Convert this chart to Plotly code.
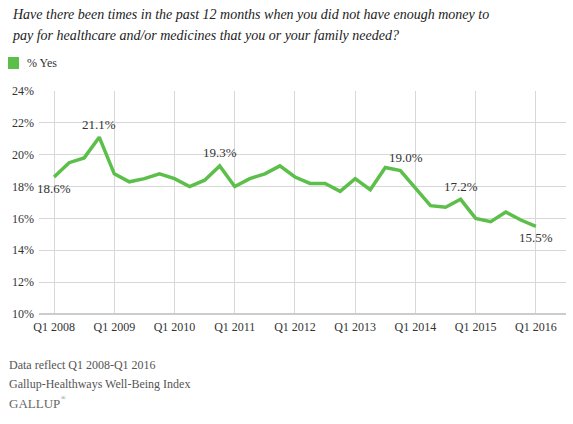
import plotly.graph_objects as go

quarters = ["Q1 2008", "Q2 2008", "Q3 2008", "Q4 2008",
            "Q1 2009", "Q2 2009", "Q3 2009", "Q4 2009",
            "Q1 2010", "Q2 2010", "Q3 2010", "Q4 2010",
            "Q1 2011", "Q2 2011", "Q3 2011", "Q4 2011",
            "Q1 2012", "Q2 2012", "Q3 2012", "Q4 2012",
            "Q1 2013", "Q2 2013", "Q3 2013", "Q4 2013",
            "Q1 2014", "Q2 2014", "Q3 2014", "Q4 2014",
            "Q1 2015", "Q2 2015", "Q3 2015", "Q4 2015",
            "Q1 2016"]
pct_yes = [18.6, 19.5, 19.8, 21.1,
           18.8, 18.3, 18.5, 18.8,
           18.5, 18.0, 18.4, 19.3,
           18.0, 18.5, 18.8, 19.3,
           18.6, 18.2, 18.2, 17.7,
           18.5, 17.8, 19.2, 19.0,
           17.9, 16.8, 16.7, 17.2,
           16.0, 15.8, 16.4, 15.9,
           15.5]
tick_labels = ["Q1 2008", "Q1 2009", "Q1 2010", "Q1 2011", "Q1 2012",
               "Q1 2013", "Q1 2014", "Q1 2015", "Q1 2016"]
y_ticks = [10, 12, 14, 16, 18, 20, 22, 24]
# labelled points: index -> position (above/below)
labelled = {0: "below", 3: "above", 11: "above", 23: "above", 27: "above", 32: "below"}

W, H = 573, 424
L, R, T, B = 39, 566, 91, 314
GREEN = "#5cbf4a"
SERIF = "'Liberation Serif', 'Times New Roman', serif"

def px(xp):
    return (xp - L) / (R - L)

def py(yp):
    return (B - yp) / (B - T)

xs = list(range(len(quarters)))
tick_vals = [quarters.index(t) for t in tick_labels]

fig = go.Figure()
fig.add_trace(go.Scatter(
    x=xs, y=pct_yes, mode="lines",
    line=dict(color=GREEN, width=3.5),
    hoverinfo="skip", showlegend=False,
))

annotations = []
for i, pos in labelled.items():
    annotations.append(dict(
        x=xs[i], y=pct_yes[i], xref="x", yref="y",
        text=f"{pct_yes[i]:.1f}%", showarrow=False,
        font=dict(family=SERIF, size=13, color="#333333"),
        yshift=13 if pos == "above" else -11,
        xshift=6 if i == 23 else 0,
    ))

# title
annotations.append(dict(
    x=px(10), y=py(15), xref="paper", yref="paper", xanchor="left", yanchor="middle",
    text="<i>Have there been times in the past 12 months when you did not have enough money to</i>",
    showarrow=False, font=dict(family=SERIF, size=14, color="#222222")))
annotations.append(dict(
    x=px(10), y=py(36), xref="paper", yref="paper", xanchor="left", yanchor="middle",
    text="<i>pay for healthcare and/or medicines that you or your family needed?</i>",
    showarrow=False, font=dict(family=SERIF, size=14, color="#222222")))
# legend text
annotations.append(dict(
    x=px(25), y=py(63), xref="paper", yref="paper", xanchor="left", yanchor="middle",
    text="% Yes", showarrow=False, font=dict(family=SERIF, size=12, color="#333333")))
# footer
annotations.append(dict(
    x=px(7), y=py(365), xref="paper", yref="paper", xanchor="left", yanchor="middle",
    text="Data reflect Q1 2008-Q1 2016", showarrow=False,
    font=dict(family=SERIF, size=12, color="#555555")))
annotations.append(dict(
    x=px(7), y=py(384), xref="paper", yref="paper", xanchor="left", yanchor="middle",
    text="Gallup-Healthways Well-Being Index", showarrow=False,
    font=dict(family=SERIF, size=12, color="#555555")))
annotations.append(dict(
    x=px(7), y=py(403), xref="paper", yref="paper", xanchor="left", yanchor="middle",
    text="GALLUP", showarrow=False,
    font=dict(family=SERIF, size=13, color="#666666")))
annotations.append(dict(
    x=px(59), y=py(398), xref="paper", yref="paper", xanchor="left", yanchor="middle",
    text="®", showarrow=False,
    font=dict(family=SERIF, size=6, color="#666666")))

shapes = [
    dict(type="rect", xref="paper", yref="paper",
         x0=px(8), x1=px(19), y0=py(57), y1=py(69),
         fillcolor=GREEN, line=dict(width=0)),
    dict(type="line", xref="paper", yref="paper",
         x0=0, x1=1, y0=0, y1=0, line=dict(color="#cccccc", width=2)),
]

fig.update_layout(
    width=W, height=H,
    margin=dict(l=L, r=W - R, t=T, b=H - B),
    paper_bgcolor="white", plot_bgcolor="white",
    annotations=annotations, shapes=shapes,
    showlegend=False,
    xaxis=dict(
        range=[-1, 34], tickmode="array", tickvals=tick_vals, ticktext=tick_labels,
        showgrid=True, gridcolor="#d8d8d8", gridwidth=1,
        zeroline=False, showline=False, ticks="", ticklabelstandoff=4,
        tickfont=dict(family=SERIF, size=12, color="#333333"),
        fixedrange=True,
    ),
    yaxis=dict(
        range=[10, 24], tickmode="array", tickvals=y_ticks,
        ticktext=[f"{v}%" for v in y_ticks],
        showgrid=True, gridcolor="#d8d8d8", gridwidth=1,
        zeroline=False, showline=False, ticks="", ticklabelstandoff=4,
        tickfont=dict(family=SERIF, size=12, color="#333333"),
        fixedrange=True,
    ),
)

fig.write_html("out.html", config={"displayModeBar": False},
               post_script="document.body.style.margin='0';")
